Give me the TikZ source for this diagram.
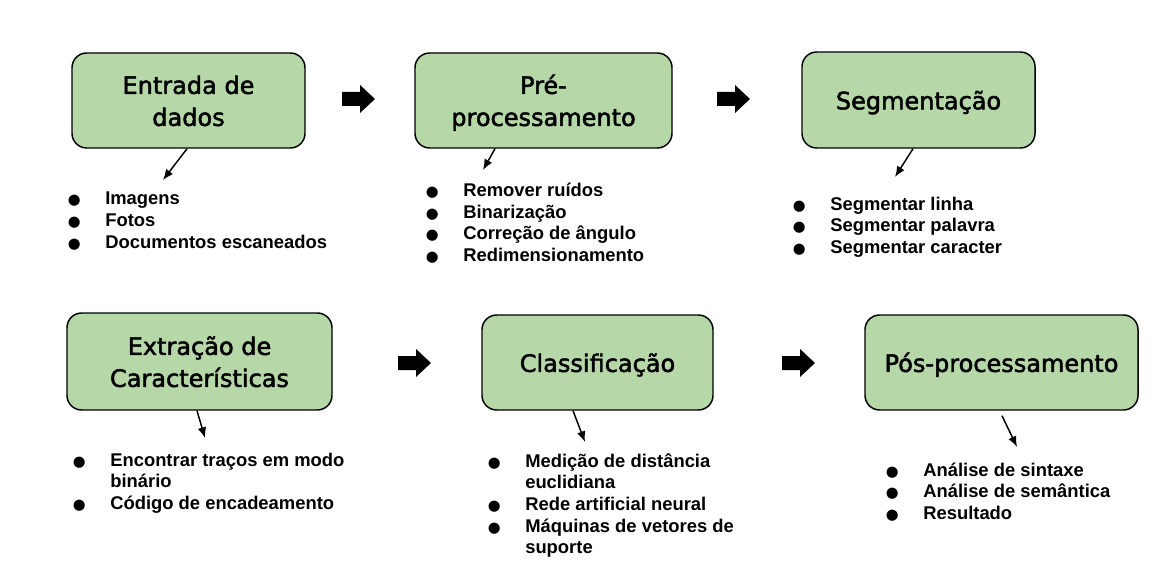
\documentclass[tikz,border=0pt]{standalone}
\usepackage{fontspec}
\setmainfont{Liberation Sans}
\newfontfamily\titulofont[FakeBold=2]{DejaVu Sans}
\newfontfamily\simbolofont{DejaVu Sans}
\usetikzlibrary{calc,arrows.meta}

\definecolor{verdecaixa}{HTML}{B6D7A8}
\newcommand{\bul}{\makebox[46.5pt][c]{\simbolofont\fontsize{11}{11}\selectfont ●}}
\newcommand{\esc}{\rule[-4.95pt]{0pt}{24pt}}
\newcommand{\setagrossa}[1]{\fill #1 ++(0,-7) -- ++(18,0) -- ++(0,-7) -- ++(15,14) -- ++(-15,14) -- ++(0,-7) -- ++(-18,0) -- cycle;}

\tikzset{
  caixa/.style={draw, line width=1.1pt, rounded corners=11pt, fill=verdecaixa, align=center, inner sep=0pt, font=\titulofont\fontsize{18}{24}\selectfont},
  lista/.style={anchor=base west, inner sep=0pt, font=\fontsize{13.8}{16.3}\selectfont\bfseries},
  seta/.style={-{Latex[length=8pt,width=6.5pt]}, line width=1.1pt}
}

\begin{document}
\begin{tikzpicture}[x=0.75pt,y=-0.75pt]
\useasboundingbox (0,0) rectangle (1173,577);

% etapas
\node[caixa, minimum width=174.75pt, minimum height=71.25pt] (entrada) at (188.5,100.5) {Entrada de\esc\\dados\esc};
\node[caixa, minimum width=192.75pt, minimum height=71.25pt] (preproc) at (543.5,100.5) {Pré-\esc\\processamento\esc};
\node[caixa, minimum width=174.75pt, minimum height=72pt] (segment) at (918.5,100) {Segmentação\esc};
\node[caixa, minimum width=198.75pt, minimum height=72.75pt] (extracao) at (199.5,361.5) {Extração de\esc\\Características\esc};
\node[caixa, minimum width=173.25pt, minimum height=71.25pt] (classif) at (597.5,362.5) {Classificação\esc};
\node[caixa, minimum width=204.75pt, minimum height=71.25pt] (posproc) at (1001.5,362.5) {Pós-processamento\esc};

% setas entre etapas
\setagrossa{(342,99)}
\setagrossa{(717,99)}
\setagrossa{(398,363)}
\setagrossa{(782,363)}

% listas
\node[lista] (lentrada) at (43,205) {\begin{tabular}[t]{@{}l@{}l@{}}
\bul & Imagens\\
\bul & Fotos\\
\bul & Documentos escaneados
\end{tabular}};
\node[lista] (lpreproc) at (401,196.5) {\begin{tabular}[t]{@{}l@{}l@{}}
\bul & Remover ruídos\\
\bul & Binarização\\
\bul & Correção de ângulo\\
\bul & Redimensionamento
\end{tabular}};
\node[lista] (lsegment) at (768,210) {\begin{tabular}[t]{@{}l@{}l@{}}
\bul & Segmentar linha\\
\bul & Segmentar palavra\\
\bul & Segmentar caracter
\end{tabular}};
\node[lista] (lextracao) at (48,466) {\begin{tabular}[t]{@{}l@{}l@{}}
\bul & Encontrar traços em modo\\
 & binário\\
\bul & Código de encadeamento
\end{tabular}};
\node[lista] (lclassif) at (463,467) {\begin{tabular}[t]{@{}l@{}l@{}}
\bul & Medição de distância\\
 & euclidiana\\
\bul & Rede artificial neural\\
\bul & Máquinas de vetores de\\
 & suporte
\end{tabular}};
\node[lista] (lposproc) at (861,476) {\begin{tabular}[t]{@{}l@{}l@{}}
\bul & Análise de sintaxe\\
\bul & Análise de semântica\\
\bul & Resultado
\end{tabular}};

% setas para as listas
\coordinate (p1) at (163,180);
\coordinate (p2) at (483,170);
\coordinate (p3) at (895,177);
\coordinate (p4) at (205,438);
\coordinate (p5) at (585,442);
\coordinate (p6) at (1017,447);
\draw[seta] ($(entrada.south)+(-1.5,0)$) -- (p1);
\draw[seta] ($(preproc.south)+(-48.5,0)$) -- (p2);
\draw[seta] ($(segment.south)+(-5.5,0)$) -- (p3);
\draw[seta] ($(extracao.south)+(-2.5,0)$) -- (p4);
\draw[seta] ($(classif.south)+(-24.5,0)$) -- (p5);
\draw[seta] ($(posproc.south)+(0.5,5)$) -- (p6);
\end{tikzpicture}
\end{document}
